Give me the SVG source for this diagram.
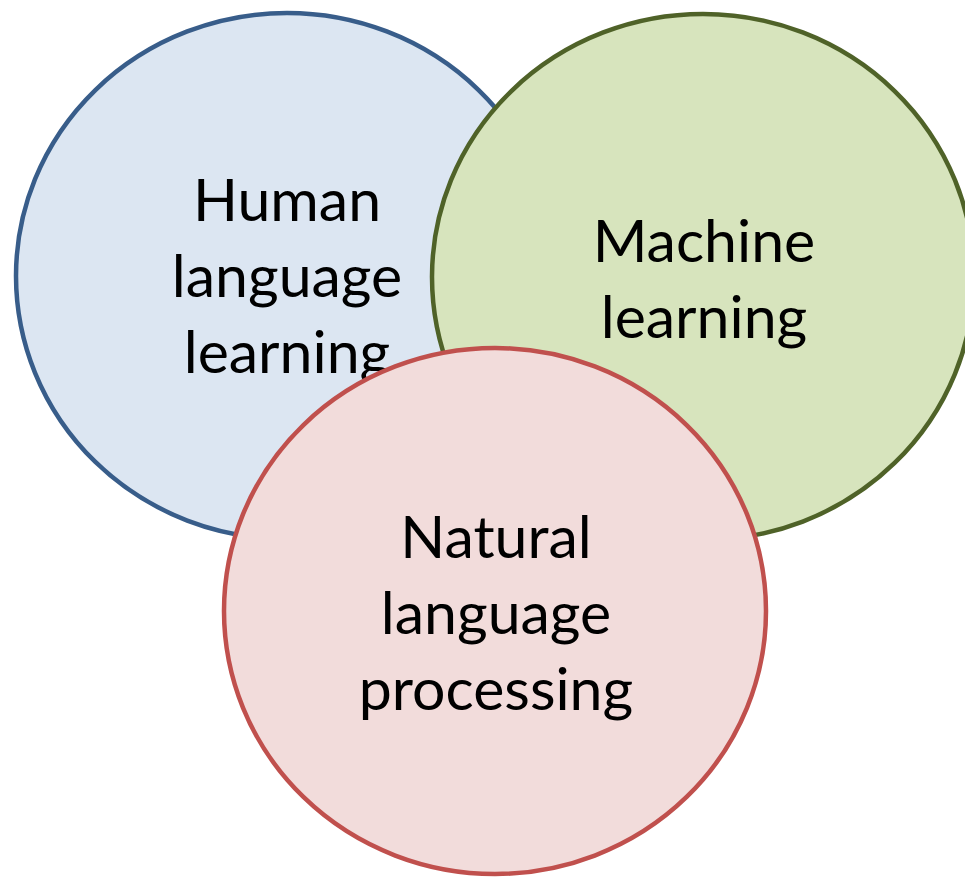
<svg xmlns="http://www.w3.org/2000/svg" width="965" height="877" viewBox="0 0 965 877">
  <style>
    .set { stroke-width: 4.5; }
    .blue { fill: #DCE6F2; stroke: #385D8A; }
    .green { fill: #D7E4BD; stroke: #4F6228; }
    .red { fill: #F2DCDB; stroke: #C0504D; }
    .label { font-family: "Lato", "Liberation Sans", sans-serif; font-size: 59px; fill: #000000; text-anchor: middle; }
  </style>
  <rect width="965" height="877" fill="#FFFFFF"/>
  <!-- Human language learning (back) -->
  <g id="human-language-learning">
    <ellipse class="set blue" cx="287" cy="276" rx="271" ry="263"/>
    <text class="label"><tspan x="287" y="221">Human</tspan><tspan x="287" y="297">language</tspan><tspan x="287" y="373">learning</tspan></text>
  </g>
  <!-- Machine learning (middle) -->
  <g id="machine-learning">
    <ellipse class="set green" cx="703" cy="277" rx="271" ry="263"/>
    <text class="label"><tspan x="704" y="262">Machine</tspan><tspan x="704" y="338">learning</tspan></text>
  </g>
  <!-- Natural language processing (front) -->
  <g id="natural-language-processing">
    <ellipse class="set red" cx="495" cy="611" rx="271" ry="263"/>
    <text class="label"><tspan x="496" y="558">Natural</tspan><tspan x="496" y="634">language</tspan><tspan x="496" y="710">processing</tspan></text>
  </g>
  <g id="connectors"/>
</svg>
